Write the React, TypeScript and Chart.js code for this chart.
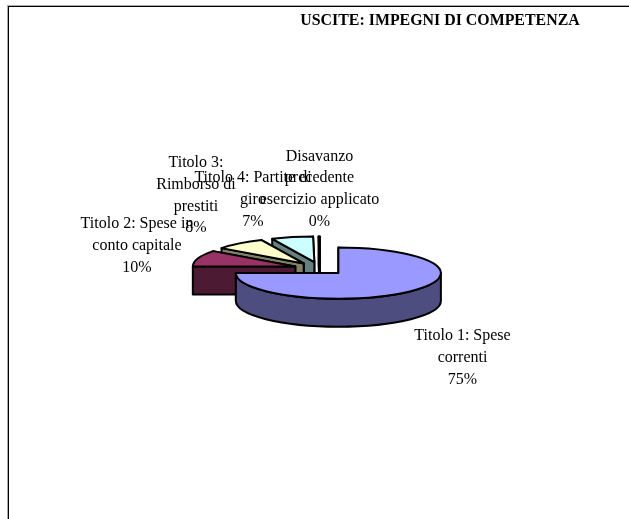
import React, { useEffect, useRef } from "react";
import { Chart, registerables } from "chart.js";

Chart.register(...registerables);

const titleText = "USCITE: IMPEGNI DI COMPETENZA";
const categories = [
  "Titolo 1: Spese correnti",
  "Titolo 2: Spese in conto capitale",
  "Titolo 3: Rimborso di prestiti",
  "Titolo 4: Partite di giro",
  "Disavanzo precedente esercizio applicato",
];
const values = [75, 10.2, 8.05, 6.55, 0.2];
const topColors = ["#9999FF", "#993366", "#FFFFCC", "#CCFFFF", "#660066"];
const wallColors = ["#4D4D80", "#4D1A33", "#808066", "#668080", "#330033"];

const labelLines = [
  ["Titolo 1: Spese", "correnti"],
  ["Titolo 2: Spese in", "conto capitale"],
  ["Titolo 3:", "Rimborso di", "prestiti"],
  ["Titolo 4: Partite di", "giro"],
  ["Disavanzo", "precedente", "esercizio applicato"],
];
const labelCenters = [
  [462.5, 336],
  [137, 224],
  [196, 163],
  [253, 178],
  [319.5, 156.5],
];

const PIE_X = 320;
const PIE_Y = 268.5;
const RADIUS = 102.5;
const TILT = 0.25;
const EXPLODE = 26;
const DEPTH = 28;
const LINE_H = 21.7;
const LABEL_FONT = '16px "Liberation Serif"';

const pie3d = {
  id: "pie3d",
  afterLayout(chart: any) {
    const t = chart.titleBlock;
    t.left = 300;
    t.right = 580;
    t.top = 0;
  },
  beforeDatasetDraw(chart: any, args: any) {
    const ctx = chart.ctx;
    const arcs = chart.getDatasetMeta(args.index).data;
    for (let i = arcs.length - 1; i >= 0; i--) {
      const a = arcs[i];
      const mid = (a.startAngle + a.endAngle) / 2;
      const ox = PIE_X + Math.cos(mid) * EXPLODE;
      const oy = PIE_Y + Math.sin(mid) * EXPLODE * TILT;
      const R = a.outerRadius;
      const Ry = R * TILT;
      const pt = (th: number) => [ox + R * Math.cos(th), oy + Ry * Math.sin(th)];

      ctx.save();
      ctx.lineWidth = 2;
      ctx.lineJoin = "round";
      ctx.strokeStyle = "#000";
      ctx.fillStyle = wallColors[i];

      // radial walls
      for (const th of [a.endAngle, a.startAngle]) {
        const p = pt(th);
        ctx.beginPath();
        ctx.moveTo(ox, oy);
        ctx.lineTo(p[0], p[1]);
        ctx.lineTo(p[0], p[1] + DEPTH);
        ctx.lineTo(ox, oy + DEPTH);
        ctx.closePath();
        ctx.fill();
        ctx.stroke();
      }
      // outer curved wall: the part that faces the viewer
      const norm = (x: number) => ((x % (2 * Math.PI)) + 2 * Math.PI) % (2 * Math.PI);
      const s = norm(a.startAngle);
      const span = a.endAngle - a.startAngle;
      const from = Math.max(s > Math.PI ? s - 2 * Math.PI : s, 0);
      const to = Math.min((s > Math.PI ? s - 2 * Math.PI : s) + span, Math.PI);
      if (to > from) {
        ctx.beginPath();
        ctx.ellipse(ox, oy, R, Ry, 0, from, to);
        ctx.ellipse(ox, oy + DEPTH, R, Ry, 0, to, from, true);
        ctx.closePath();
        ctx.fill();
        ctx.stroke();
      }

      // top face, painted by the library's own arc element
      ctx.save();
      ctx.translate(ox, oy);
      ctx.scale(1, TILT);
      ctx.translate(-a.x, -a.y);
      a.draw(ctx);
      ctx.restore();

      // outline in unscaled space, so the stroke keeps an even width
      ctx.beginPath();
      ctx.moveTo(ox, oy);
      ctx.ellipse(ox, oy, R, Ry, 0, a.startAngle, a.endAngle);
      ctx.closePath();
      ctx.stroke();
      ctx.restore();
    }
    return false;
  },
  afterDraw(chart: any) {
    const ctx = chart.ctx;
    const total = values.reduce((x, y) => x + y, 0);
    ctx.save();
    ctx.font = LABEL_FONT;
    ctx.fillStyle = "#000";
    ctx.textAlign = "center";
    ctx.textBaseline = "middle";
    labelLines.forEach((lines, i) => {
      const all = [...lines, Math.round((values[i] / total) * 100) + "%"];
      all.forEach((ln, j) => {
        ctx.fillText(ln, labelCenters[i][0], labelCenters[i][1] + j * LINE_H);
      });
    });
    ctx.restore();
  },
};

export default function App() {
  const ref = useRef<HTMLCanvasElement>(null);
  useEffect(() => {
    document.body.style.margin = "0";
    document.body.style.background = "#fff";
    const chart = new Chart(ref.current as HTMLCanvasElement, {
      type: "doughnut",
      data: {
        labels: categories,
        datasets: [
          {
            data: values,
            backgroundColor: topColors,
            borderWidth: 0,
            offset: 0,
          },
        ],
      },
      options: {
        responsive: false,
        animation: false,
        cutout: 0,
        radius: RADIUS,
        rotation: 0,
        plugins: {
          legend: { display: false },
          tooltip: { enabled: false },
          title: {
            display: true,
            text: titleText,
            color: "#000",
            font: { family: '"Liberation Serif"', size: 15.9, weight: "bold" },
            padding: { top: 11.5, bottom: 0 },
          },
        },
      },
      plugins: [pie3d],
    } as any);
    return () => chart.destroy();
  }, []);
  return (
    <div style={{ position: "absolute", left: 0, top: 0, width: 629, height: 519, overflow: "hidden" }}>
      <canvas ref={ref} width={629} height={519} style={{ display: "block" }} />
      <div
        style={{
          position: "absolute",
          left: 8,
          top: 6,
          right: -5,
          bottom: -5,
          borderLeft: "1px solid #000",
          borderTop: "1px solid #000",
          boxShadow: "-1px -1px 0 #aaa",
        }}
      />
    </div>
  );
}
